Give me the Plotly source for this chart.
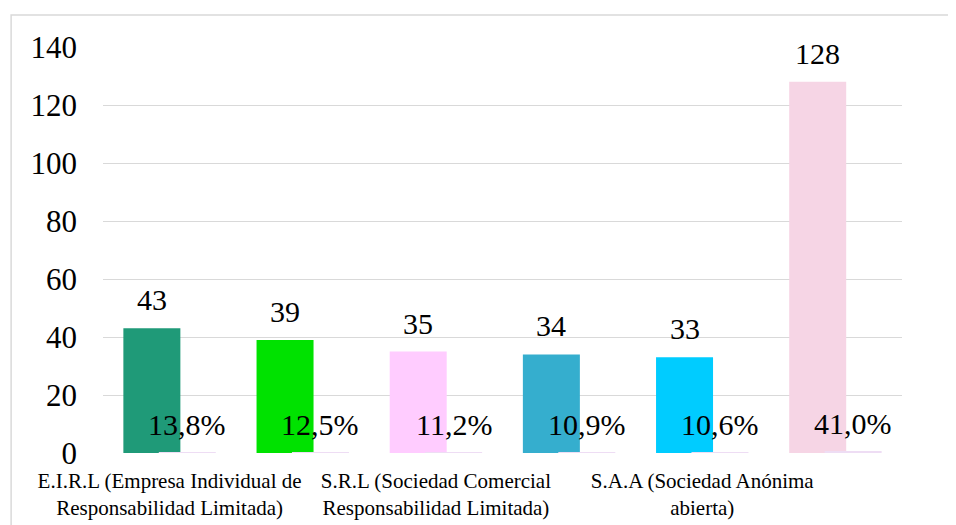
import plotly.graph_objects as go

# categorias (Excel solo muestra una de cada dos etiquetas)
categories = [
    "E.I.R.L (Empresa Individual de<br>Responsabilidad Limitada)",
    "",
    "S.R.L (Sociedad Comercial<br>Responsabilidad Limitada)",
    "",
    "S.A.A (Sociedad Anónima<br>abierta)",
    "",
]
counts = [43, 39, 35, 34, 33, 128]
shares = [0.138, 0.125, 0.112, 0.109, 0.106, 0.410]
bar_colors = ["#1F9A78", "#00E200", "#FFCCFF", "#35AECE", "#00CCFF", "#F6D5E5"]
y_ticks = [0, 20, 40, 60, 80, 100, 120, 140]

FONT = "'Liberation Serif', 'DejaVu Serif', serif"
WIDTH = 0.428
SHIFT = 0.133

xs = list(range(len(categories)))
share_text = [f"{v * 100:.1f}%".replace(".", ",") for v in shares]

fig = go.Figure()
fig.add_trace(go.Bar(
    x=xs, y=counts, width=WIDTH, offset=-SHIFT - WIDTH / 2,
    marker=dict(color=bar_colors, line_width=0), hoverinfo="skip",
))
fig.add_trace(go.Bar(
    x=xs, y=shares, width=WIDTH, offset=SHIFT - WIDTH / 2,
    marker=dict(color="#EEDDF4", line_width=0), hoverinfo="skip",
))

# etiquetas de datos por encima de cada barra
for i in xs:
    fig.add_annotation(x=i - SHIFT, y=counts[i], text=str(counts[i]),
                       showarrow=False, yanchor="bottom", yshift=10,
                       font=dict(family=FONT, size=30, color="black"))
    fig.add_annotation(x=i + SHIFT, y=shares[i], text=share_text[i],
                       showarrow=False, yanchor="bottom", yshift=10,
                       font=dict(family=FONT, size=30, color="black"))

# marco del grafico
fig.add_shape(type="rect", xref="paper", yref="paper",
              x0=-0.115, x1=1.2, y0=-0.3, y1=1.079,
              line=dict(color="#D9D9D9", width=1.5), layer="below")

fig.update_layout(
    width=948, height=517,
    margin=dict(l=95, r=54, t=39, b=72, autoexpand=False),
    paper_bgcolor="white", plot_bgcolor="white",
    barmode="overlay", showlegend=False,
    font=dict(family=FONT, color="black"),
    xaxis=dict(range=[-0.5, len(categories) - 0.5], tickvals=xs, ticktext=categories,
               showgrid=False, zeroline=False, showline=False, ticks="",
               tickfont=dict(family=FONT, size=21), ticklabelstandoff=13,
               automargin=False),
    yaxis=dict(range=[0, 140], tickvals=y_ticks, showgrid=True,
               gridcolor="#D9D9D9", gridwidth=1.3, zeroline=False, showline=False,
               ticks="", tickfont=dict(family=FONT, size=31), ticklabelstandoff=25,
               automargin=False),
)

fig.write_html("out.html")
